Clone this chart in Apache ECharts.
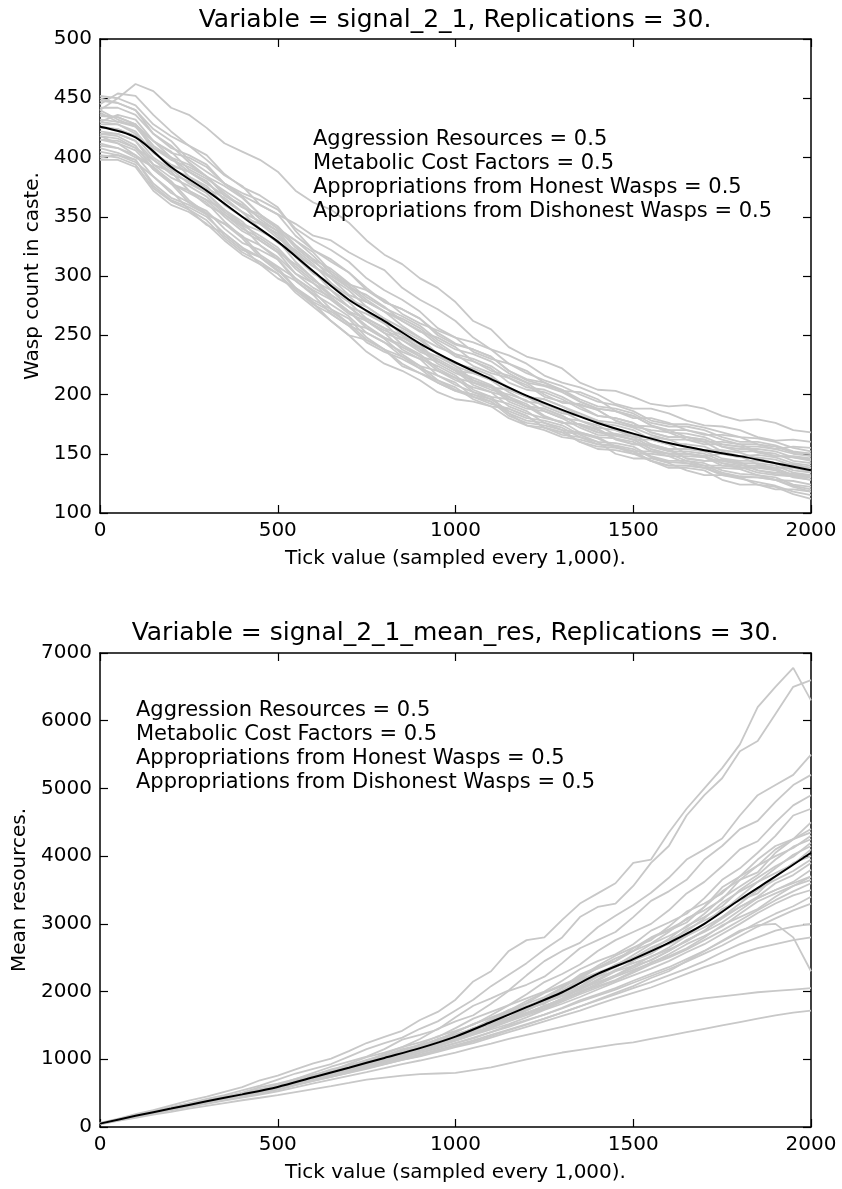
<!DOCTYPE html>
<html lang="en">
<head>
  <meta charset="UTF-8">
  <title>signal_2_1</title>
  <script src="https://cdn.jsdelivr.net/npm/echarts@6/dist/echarts.min.js"></script>
  <style>html, body { margin: 0; padding: 0; background: #fff; }</style>
</head>
<body>
  <div id="app" style="width: 842px; height: 1189px;"></div>
  <script>
    // x values of the mean curves (every 100) and of the runs (every 50)
    var meanTicks = [0,100,200,300,400,500,600,700,800,900,1000,1100,1200,1300,1400,1500,1600,1700,1800,1900,2000]
    var runTicks = [0,50,100,150,200,250,300,350,400,450,500,550,600,650,700,750,800,850,900,950,1000,
      1050,1100,1150,1200,1250,1300,1350,1400,1450,1500,1550,1600,1650,1700,1750,1800,1850,1900,1950,2000]

    // top panel: wasp count, 30 replications + mean
    var waspMean = [426,417,392,372,350,329,304,280,262,243,227,213,199,187,176,167,159,153,148,142,136]
    var waspRuns = [
      [440,450,462,456,442,436,425,412,405,398,388,372,362,356,345,330,318,310,298,290,278,262,255,240,232,228,222,210,204,203,198,192,190,191,188,182,178,179,176,170,168],
      [452,450,444,428,418,410,398,385,376,360,352,344,334,330,320,312,305,290,280,272,262,248,238,233,226,216,210,206,200,192,188,188,184,178,174,173,170,164,161,162,160],
      [430,436,432,414,404,400,392,378,370,364,356,340,330,322,312,298,288,280,270,256,248,244,238,226,218,212,207,200,194,191,186,178,175,175,172,168,164,163,160,155,152],
      [415,414,408,394,388,372,360,352,342,326,316,302,294,280,268,262,252,238,230,224,216,204,198,196,190,181,176,175,171,163,158,157,153,146,144,144,141,136,133,131,128],
      [400,402,398,378,366,360,352,334,322,316,305,290,280,272,264,248,238,224,218,210,203,198,194,182,176,174,170,160,156,155,152,144,140,140,138,132,129,126,123,118,115],
      [438,430,428,414,405,390,382,372,362,348,338,326,314,298,284,278,270,258,248,240,234,224,218,214,208,198,194,191,187,178,173,170,168,162,158,158,156,151,148,147,144],
      [420,418,410,390,378,370,362,346,333,326,314,298,288,280,270,256,248,242,234,222,214,210,206,194,188,186,180,172,166,165,162,154,150,150,148,142,138,139,137,132,130],
      [445,454,452,436,422,410,402,386,375,368,358,338,322,312,303,290,278,272,264,252,243,238,232,220,212,208,204,194,188,186,182,174,168,167,164,158,156,156,154,150,148],
      [410,408,402,384,370,362,355,340,328,322,314,296,285,276,266,252,244,236,230,216,208,202,198,184,174,170,164,162,158,156,152,144,138,138,136,128,124,124,122,116,112],
      [425,424,418,408,400,388,378,368,360,344,332,322,310,294,280,274,264,250,238,232,224,212,206,204,198,190,184,182,178,170,164,164,162,156,153,153,151,146,142,141,138],
      [435,434,428,406,390,378,370,356,344,338,330,312,298,284,274,262,254,248,240,228,220,218,214,206,198,196,190,184,178,176,172,166,162,162,160,152,148,149,147,142,140],
      [418,412,402,392,380,364,353,344,334,318,308,298,287,272,260,256,247,234,224,220,214,202,196,192,186,176,170,168,164,156,150,150,148,142,138,138,137,132,128,127,124],
      [428,428,420,404,393,388,380,364,354,346,334,316,302,294,283,270,260,254,246,234,224,218,212,202,194,192,186,178,172,170,166,158,154,154,152,146,144,144,142,136,134],
      [405,402,396,384,372,356,343,336,324,310,298,290,277,262,250,246,238,226,218,212,206,196,190,188,182,172,168,167,163,156,152,152,150,144,140,140,139,134,132,131,130],
      [448,446,440,420,408,402,394,378,368,360,352,334,322,314,303,288,278,272,264,250,242,238,232,220,213,210,204,196,190,188,184,176,173,173,170,164,160,160,157,152,150],
      [422,420,414,398,386,380,370,354,343,334,324,308,296,288,278,264,256,250,242,228,220,214,208,198,190,188,182,174,168,166,162,154,150,150,148,142,140,140,138,132,130],
      [412,408,400,392,378,362,352,344,332,316,304,296,284,268,258,252,244,232,222,216,210,198,192,188,182,172,166,164,160,150,146,146,142,136,132,132,130,124,120,120,118],
      [432,430,426,408,398,392,384,368,358,350,340,324,312,302,292,280,270,264,256,244,234,230,224,214,206,204,198,190,182,180,176,168,164,164,162,156,152,152,150,144,142],
      [440,432,426,414,400,384,374,366,354,340,328,318,304,288,274,268,260,246,236,230,222,210,204,200,195,186,180,178,174,166,162,162,158,150,148,150,148,141,138,138,135],
      [398,398,392,372,360,354,344,330,318,310,302,286,274,262,250,236,226,220,212,202,196,194,190,180,174,172,168,160,154,153,150,144,140,140,138,133,130,130,128,123,120],
      [426,424,418,400,390,384,376,360,350,344,336,318,308,300,290,278,270,262,254,242,232,228,222,210,204,202,196,188,182,180,176,168,164,164,162,156,154,154,152,147,145],
      [415,412,406,390,378,372,364,350,338,330,320,302,290,282,270,258,248,240,232,220,212,206,202,190,184,180,177,168,164,163,160,152,148,148,147,140,138,138,136,130,128],
      [450,446,440,424,414,398,388,378,367,352,340,330,317,302,290,284,274,262,253,248,240,228,220,216,210,200,193,192,187,178,174,173,170,164,160,160,158,152,148,148,146],
      [408,404,398,376,364,358,350,336,324,316,307,290,278,270,260,246,238,232,224,212,204,200,196,186,180,178,174,166,160,159,156,148,144,144,142,136,133,132,130,124,122],
      [436,434,428,410,400,394,384,370,358,352,342,326,314,306,294,282,273,266,258,246,238,234,228,218,210,207,202,194,188,186,182,174,170,170,167,162,158,158,156,151,150],
      [420,420,414,394,383,376,367,352,340,332,322,306,294,284,274,262,252,246,238,226,218,212,207,196,190,188,182,174,168,167,164,156,152,152,150,144,142,142,140,134,132],
      [442,442,436,420,410,396,384,376,366,352,340,330,320,304,293,288,280,268,260,254,248,236,230,226,220,210,203,202,196,186,180,180,176,170,166,166,164,158,154,156,155],
      [402,400,394,374,363,356,347,332,320,312,302,288,276,268,258,244,236,230,222,210,203,200,194,184,178,176,172,164,158,157,154,147,143,142,140,134,131,130,128,122,118],
      [430,428,422,404,394,388,380,364,354,346,338,320,308,298,288,274,264,256,248,234,226,222,216,204,198,196,190,182,176,174,170,162,158,158,156,150,147,147,145,140,138],
      [418,416,408,398,388,372,364,356,346,330,320,310,298,282,270,264,256,242,232,228,220,208,202,198,192,182,176,175,170,162,158,158,154,146,144,145,143,136,134,133,131]
    ]

    // bottom panel: mean resources, 30 replications + mean
    var resMean = [50,165,272,380,482,592,735,876,1020,1165,1335,1550,1770,1990,2260,2480,2720,3000,3360,3700,4050]
    var resRuns = [
      [60,120,190,250,320,390,450,520,590,690,760,850,940,1010,1120,1240,1330,1420,1580,1700,1880,2150,2300,2600,2760,2800,3060,3300,3450,3600,3900,3950,4350,4700,5000,5300,5650,6200,6500,6780,6300],
      [55,112,178,240,295,350,415,470,540,610,700,790,860,930,1040,1150,1240,1320,1450,1560,1720,1880,2080,2250,2420,2620,2800,3100,3250,3300,3560,3900,4150,4600,4900,5150,5550,5700,6100,6500,6600],
      [50,112,170,226,285,346,398,446,508,590,640,706,800,890,965,1040,1150,1290,1360,1440,1620,1790,1900,2020,2240,2450,2600,2720,2950,3120,3280,3460,3680,3950,4100,4260,4600,4900,5050,5200,5500],
      [48,100,168,236,282,330,392,448,498,552,622,710,772,830,932,1030,1100,1180,1300,1450,1560,1650,1820,2010,2100,2220,2420,2640,2760,2880,3100,3340,3480,3650,3950,4150,4400,4520,4800,5050,5200],
      [52,114,172,222,283,350,393,442,502,560,612,680,762,850,912,980,1080,1180,1250,1330,1460,1600,1700,1800,1960,2140,2260,2400,2600,2760,2880,3000,3200,3450,3620,3850,4100,4220,4500,4750,4900],
      [50,104,166,226,276,328,386,440,492,544,606,690,752,810,902,990,1062,1120,1222,1340,1420,1510,1650,1800,1900,2000,2160,2330,2450,2550,2700,2900,3020,3150,3380,3650,3820,4050,4300,4600,4700],
      [47,108,163,214,272,330,380,424,484,548,596,660,740,812,884,948,1040,1130,1200,1280,1400,1520,1620,1720,1860,1990,2100,2210,2380,2530,2650,2760,2960,3180,3300,3450,3700,3950,4150,4250,4500],
      [51,106,167,228,277,328,388,446,494,540,604,690,748,806,890,972,1036,1100,1190,1300,1370,1450,1590,1730,1820,1920,2060,2250,2360,2450,2640,2800,2920,3060,3250,3480,3650,3760,4050,4250,4400],
      [49,102,164,222,270,320,378,434,480,528,590,668,730,790,870,960,1020,1080,1170,1280,1350,1430,1560,1690,1780,1890,2050,2230,2340,2450,2600,2790,2900,3020,3250,3540,3700,3860,4100,4250,4350],
      [53,114,170,222,279,340,390,436,497,560,610,680,758,836,900,960,1050,1150,1210,1290,1400,1520,1610,1700,1830,1980,2080,2190,2350,2490,2600,2710,2880,3080,3200,3360,3650,3860,4000,4120,4300],
      [50,104,165,222,272,324,381,438,486,534,598,676,742,800,882,968,1030,1090,1180,1290,1360,1440,1570,1700,1790,1870,2020,2180,2280,2380,2540,2700,2820,2950,3150,3380,3550,3720,3950,4140,4250],
      [48,108,162,212,268,326,376,420,478,538,588,652,728,804,866,930,1012,1100,1160,1230,1340,1460,1540,1620,1760,1910,1990,2080,2250,2400,2500,2610,2780,2970,3100,3260,3500,3680,3850,3990,4200],
      [52,106,168,226,275,326,384,442,490,540,600,680,745,804,884,966,1030,1090,1180,1280,1350,1430,1560,1690,1770,1860,2000,2160,2260,2360,2500,2650,2760,2890,3080,3310,3480,3620,3820,4020,4150],
      [49,110,164,212,269,328,377,422,480,540,590,652,730,808,868,928,1010,1100,1160,1220,1330,1460,1530,1610,1740,1880,1960,2060,2220,2370,2460,2560,2720,2920,3050,3180,3400,3620,3750,3880,4100],
      [51,104,166,224,272,320,380,436,484,530,594,676,736,790,874,960,1018,1070,1168,1280,1340,1420,1540,1680,1750,1820,1970,2130,2220,2300,2450,2620,2700,2820,3000,3220,3350,3450,3700,3900,4000],
      [50,110,164,216,270,330,378,426,481,540,591,650,732,810,868,930,1010,1090,1150,1220,1320,1430,1510,1600,1720,1850,1940,2040,2180,2320,2420,2510,2650,2820,2950,3100,3300,3500,3650,3780,3950],
      [47,100,160,216,264,320,372,428,474,524,582,660,720,780,854,930,994,1050,1132,1220,1300,1380,1490,1610,1690,1780,1900,2040,2140,2240,2380,2520,2620,2740,2900,3100,3250,3400,3600,3720,3900],
      [52,108,168,224,274,324,381,436,484,536,594,670,736,800,874,950,1018,1090,1160,1230,1330,1440,1520,1610,1720,1840,1930,2020,2160,2300,2380,2460,2600,2760,2880,3020,3200,3380,3500,3620,3800],
      [49,104,163,220,268,318,375,430,477,528,586,650,724,800,860,920,1000,1080,1140,1210,1300,1400,1480,1570,1680,1790,1880,1980,2100,2220,2320,2420,2550,2700,2820,2960,3150,3330,3450,3560,3700],
      [51,110,165,216,270,326,377,424,480,536,588,662,728,790,862,940,1002,1060,1140,1230,1300,1370,1480,1590,1670,1760,1870,1990,2080,2170,2300,2430,2520,2640,2800,2980,3100,3220,3400,3560,3650],
      [48,102,162,220,266,314,372,428,474,520,580,650,716,780,850,922,988,1050,1124,1200,1280,1370,1460,1560,1650,1740,1850,1960,2060,2160,2280,2400,2500,2620,2760,2900,3050,3200,3350,3480,3600],
      [50,108,164,214,268,324,374,420,476,532,582,650,718,786,850,910,986,1060,1120,1190,1270,1360,1440,1520,1620,1730,1820,1920,2030,2140,2240,2340,2450,2580,2700,2850,3000,3160,3300,3420,3500],
      [47,100,160,214,262,316,366,418,466,516,570,640,704,766,832,900,964,1030,1096,1170,1240,1310,1400,1500,1580,1660,1760,1870,1960,2050,2160,2260,2360,2480,2600,2740,2880,3020,3150,3260,3400],
      [49,106,161,210,264,318,368,416,468,520,572,640,706,770,834,900,966,1030,1096,1160,1240,1320,1400,1480,1570,1660,1750,1850,1940,2030,2130,2230,2330,2440,2560,2680,2820,2960,3080,3200,3300],
      [48,102,159,212,260,312,362,412,460,512,562,624,692,756,818,880,946,1010,1070,1140,1210,1280,1360,1440,1520,1600,1690,1780,1870,1960,2050,2140,2240,2340,2450,2580,2700,2800,2900,2960,3000],
      [46,98,156,208,256,306,356,404,452,500,552,620,680,740,800,860,924,990,1044,1110,1180,1240,1320,1400,1480,1560,1640,1720,1810,1900,1980,2060,2160,2260,2360,2450,2560,2640,2700,2760,2800],
      [47,100,157,210,257,308,358,406,454,504,554,620,682,740,804,870,930,990,1050,1120,1190,1260,1340,1430,1510,1600,1690,1780,1880,1980,2080,2200,2300,2450,2600,2750,2900,2980,3000,2800,2300],
      [45,98,150,200,246,296,342,388,434,480,528,584,644,700,756,812,870,930,982,1040,1100,1170,1230,1300,1360,1420,1480,1540,1600,1660,1720,1770,1820,1860,1900,1930,1960,1990,2010,2030,2050],
      [40,90,136,182,225,270,312,354,395,432,470,516,560,604,650,700,730,760,780,790,800,840,880,940,1000,1050,1100,1140,1180,1220,1250,1300,1350,1400,1450,1500,1550,1600,1650,1690,1720],
      [49,106,163,214,267,320,374,428,476,528,584,650,722,790,858,930,1000,1070,1140,1220,1300,1390,1480,1580,1680,1790,1890,2000,2120,2240,2350,2470,2600,2750,2900,3080,3250,3380,3500,3600,3700]
    ]

    var FONT = 'DejaVu Sans'
    var app = document.querySelector('#app')
    var mCharts = echarts.init(app)

    function pairs(xs, vals) {
      return xs.map(function (t, i) { return [t, vals[i]] })
    }

    // one axis side: labelled or just a mirrored frame edge
    function axis(grid, pos, min, max, step, labelled, name, gap) {
      return {
        type: 'value', gridIndex: grid, position: pos,
        min: min, max: max, interval: step,
        axisLine: { show: true, onZero: false, lineStyle: { color: '#000', width: 1.5 } },
        axisTick: { show: true, inside: true, length: 8, lineStyle: { color: '#000', width: 1.2 } },
        axisLabel: { show: labelled, color: '#000', fontFamily: FONT, fontSize: 20, margin: 8,
          showMinLabel: true, showMaxLabel: true,
          formatter: function (v) { return String(v) } },
        splitLine: { show: false },
        name: labelled ? name : '',
        nameLocation: 'middle', nameGap: gap,
        nameTextStyle: { color: '#000', fontFamily: FONT, fontSize: 20 }
      }
    }

    function runSeries(run, ax) {
      return { type: 'line', xAxisIndex: ax, yAxisIndex: ax, data: pairs(runTicks, run),
        symbol: 'none', silent: true, z: 2, lineStyle: { color: '#c8c8c8', width: 1.8 } }
    }
    function meanSeries(vals, ax) {
      return { type: 'line', xAxisIndex: ax, yAxisIndex: ax, data: pairs(meanTicks, vals),
        symbol: 'none', silent: true, z: 3, smooth: 0.3, lineStyle: { color: '#000', width: 2 } }
    }

    var series = []
    waspRuns.forEach(function (run) { series.push(runSeries(run, 0)) })
    series.push(meanSeries(waspMean, 0))
    resRuns.forEach(function (run) { series.push(runSeries(run, 2)) })
    series.push(meanSeries(resMean, 2))

    var xName = 'Tick value (sampled every 1,000).'
    var notes = 'Aggression Resources = 0.5\nMetabolic Cost Factors = 0.5\n' +
      'Appropriations from Honest Wasps = 0.5\nAppropriations from Dishonest Wasps = 0.5'

    var option = {
      animation: false,
      backgroundColor: '#fff',
      grid: [
        { left: 100, top: 39, width: 711, height: 474 },
        { left: 100, top: 653, width: 711, height: 474 }
      ],
      xAxis: [
        axis(0, 'bottom', 0, 2000, 500, true, xName, 36),
        axis(0, 'top', 0, 2000, 500, false),
        axis(1, 'bottom', 0, 2000, 500, true, xName, 36),
        axis(1, 'top', 0, 2000, 500, false)
      ],
      yAxis: [
        axis(0, 'left', 100, 500, 50, true, 'Wasp count in caste.', 55),
        axis(0, 'right', 100, 500, 50, false),
        axis(1, 'left', 0, 7000, 1000, true, 'Mean resources.', 68),
        axis(1, 'right', 0, 7000, 1000, false)
      ],
      graphic: [
        { type: 'text', x: 455, y: 20, style: { text: 'Variable = signal_2_1, Replications = 30.',
          font: '25px "DejaVu Sans"', fill: '#000', align: 'center', verticalAlign: 'middle' } },
        { type: 'text', x: 455, y: 633, style: { text: 'Variable = signal_2_1_mean_res, Replications = 30.',
          font: '25px "DejaVu Sans"', fill: '#000', align: 'center', verticalAlign: 'middle' } },
        { type: 'text', x: 313, y: 128, z: 10, style: { text: notes, lineHeight: 24,
          font: '21px "DejaVu Sans"', fill: '#000', align: 'left', verticalAlign: 'top' } },
        { type: 'text', x: 136, y: 699, z: 10, style: { text: notes, lineHeight: 24,
          font: '21px "DejaVu Sans"', fill: '#000', align: 'left', verticalAlign: 'top' } }
      ],
      series: series
    }
    mCharts.setOption(option)
  </script>
</body>
</html>
